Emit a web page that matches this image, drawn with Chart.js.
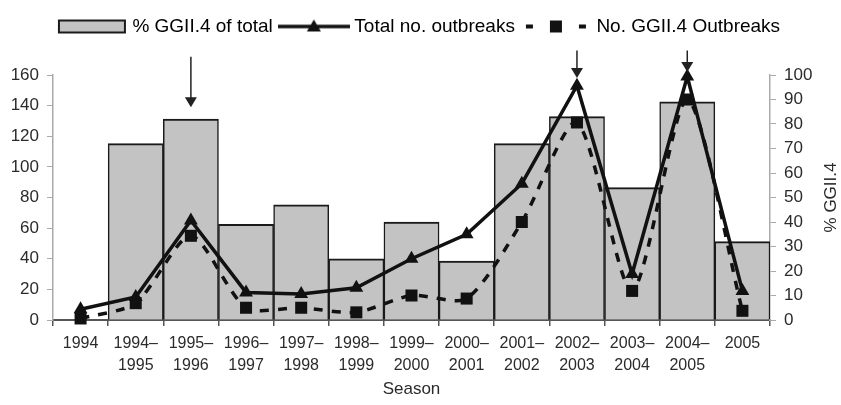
<!DOCTYPE html>
<html>
<head>
<meta charset="utf-8">
<script src="https://cdn.jsdelivr.net/npm/chart.js@4"></script>
<style>
  html, body { margin: 0; padding: 0; background: #fff; }
  #wrap { width: 841px; height: 405px; }
</style>
</head>
<body>
<div id="wrap"><canvas id="chart" width="841" height="405"></canvas></div>
<script>
const seasons = [
  "1994", ["1994–", "1995"], ["1995–", "1996"], ["1996–", "1997"], ["1997–", "1998"],
  ["1998–", "1999"], ["1999–", "2000"], ["2000–", "2001"], ["2001–", "2002"],
  ["2002–", "2003"], ["2003–", "2004"], ["2004–", "2005"], "2005"
];
const pctGGII4 = [null, 72, 82, 39, 47, 25, 40, 24, 72, 83, 54, 89, 32];
const totalOutbreaks = [7, 15, 65, 18, 17, 21, 40, 56, 89, 153, 30, 159, 19];
const ggii4Outbreaks = [1, 11, 55, 8, 8, 5, 16, 14, 64, 129, 19, 144, 6];

// arrows over the epidemic seasons: season index, start and tip (left axis units)
const arrowSeasons = [2, 9, 11];
const arrowTop = [172, 176, 176];
const arrowTip = [139, 158, 162];

Chart.defaults.font.family = '"Liberation Sans", Arial, sans-serif';
Chart.defaults.color = "#2b2b2b";

// little canvases used as legend symbols
function legendSymbol(kind) {
  const c = document.createElement("canvas");
  c.width = 72;
  c.height = 18;
  const g = c.getContext("2d");
  const mid = 9;
  if (kind === "bar") {
    g.fillStyle = "#c3c3c3";
    g.fillRect(3, 3, 66, 12);
    g.strokeStyle = "#1a1a1a";
    g.lineWidth = 2;
    g.strokeRect(3, 3, 66, 12);
  } else if (kind === "total") {
    g.strokeStyle = "#111";
    g.lineWidth = 3.5;
    g.beginPath();
    g.moveTo(0, mid);
    g.lineTo(72, mid);
    g.stroke();
    g.fillStyle = "#111";
    g.beginPath();
    g.moveTo(36, mid - 7);
    g.lineTo(43, mid + 5);
    g.lineTo(29, mid + 5);
    g.closePath();
    g.fill();
  } else {
    g.fillStyle = "#111";
    g.fillRect(6, mid - 2, 7, 4);
    g.fillRect(30, mid - 6, 12, 12);
    g.fillRect(59, mid - 2, 7, 4);
  }
  return c;
}

const annotations = {
  id: "annotations",
  afterDatasetsDraw(chart) {
    const { ctx, chartArea } = chart;
    const x = chart.scales.x, y = chart.scales.y, y1 = chart.scales.y1;
    ctx.save();
    ctx.strokeStyle = "#222";
    ctx.fillStyle = "#222";
    ctx.lineWidth = 1.5;
    arrowSeasons.forEach((idx, i) => {
      const px = x.getPixelForValue(idx);
      const top = y.getPixelForValue(arrowTop[i]);
      const tip = y.getPixelForValue(arrowTip[i]);
      ctx.beginPath();
      ctx.moveTo(px, top);
      ctx.lineTo(px, tip - 9);
      ctx.stroke();
      ctx.beginPath();
      ctx.moveTo(px - 6, tip - 10);
      ctx.lineTo(px + 6, tip - 10);
      ctx.lineTo(px, tip);
      ctx.closePath();
      ctx.fill();
    });
    // right axis title, reading upwards
    ctx.font = '17px "Liberation Sans", Arial, sans-serif';
    ctx.fillStyle = "#2b2b2b";
    ctx.translate(y1.right - 10, (chartArea.top + chartArea.bottom) / 2);
    ctx.rotate(-Math.PI / 2);
    ctx.textAlign = "center";
    ctx.textBaseline = "middle";
    ctx.fillText("% GGII.4", 0, 0);
    ctx.restore();
  }
};

const axisGrey = "#aaa";

new Chart(document.getElementById("chart"), {
  type: "bar",
  data: {
    labels: seasons,
    datasets: [
      {
        type: "line",
        label: "Total no. outbreaks",
        data: totalOutbreaks,
        yAxisID: "y",
        borderColor: "#111",
        backgroundColor: "#111",
        borderWidth: 3.5,
        pointStyle: "triangle",
        pointRadius: 8,
        pointBackgroundColor: "#111",
        pointBorderWidth: 0,
        tension: 0,
        clip: false,
        order: 1
      },
      {
        type: "line",
        label: "No. GGII.4 Outbreaks",
        data: ggii4Outbreaks,
        yAxisID: "y",
        borderColor: "#111",
        backgroundColor: "#111",
        borderWidth: 3.5,
        borderDash: [9, 9],
        pointStyle: "rect",
        pointRadius: 8.5,
        pointBackgroundColor: "#111",
        pointBorderWidth: 0,
        tension: 0.25,
        clip: false,
        order: 2
      },
      {
        type: "bar",
        label: "% GGII.4 of total",
        data: pctGGII4,
        yAxisID: "y1",
        backgroundColor: "#c3c3c3",
        borderColor: "#1a1a1a",
        borderWidth: { top: 2, left: 1.5, right: 1.5, bottom: 0 },
        borderSkipped: false,
        barPercentage: 1,
        categoryPercentage: 1,
        order: 3
      }
    ]
  },
  options: {
    responsive: false,
    animation: false,
    layout: { padding: { top: 7, left: 0, right: 0, bottom: 0 } },
    plugins: {
      tooltip: { enabled: false },
      legend: {
        position: "top",
        labels: {
          usePointStyle: true,
          pointStyleWidth: 62,
          padding: 10,
          color: "#2b2b2b",
          font: { size: 19 },
          generateLabels() {
            return [
              { text: "% GGII.4 of total", pointStyle: legendSymbol("bar"), lineWidth: 0, datasetIndex: 2 },
              { text: "Total no. outbreaks", pointStyle: legendSymbol("total"), lineWidth: 0, datasetIndex: 0 },
              { text: "No. GGII.4 Outbreaks", pointStyle: legendSymbol("ggii"), lineWidth: 0, datasetIndex: 1 }
            ];
          }
        }
      },
      // empty spacer between legend and plot area
      subtitle: {
        display: true,
        text: "",
        weight: 500,
        font: { size: 10, lineHeight: 1.2 },
        padding: { top: 0, bottom: 17 }
      }
    },
    scales: {
      x: {
        offset: true,
        grid: { display: true, drawOnChartArea: false, offset: true, tickLength: 6, color: "#555", lineWidth: 1.5 },
        border: { color: "#555", width: 2 },
        ticks: { color: "#2b2b2b", font: { size: 16, lineHeight: 1.35 }, padding: 7, maxRotation: 0, autoSkip: false },
        title: { display: true, text: "Season", color: "#2b2b2b", font: { size: 17 }, padding: { top: 0, bottom: 5 } },
        afterFit(scale) { scale.height = 85; }
      },
      y: {
        position: "left",
        min: 0,
        max: 160,
        ticks: { stepSize: 20, color: "#2b2b2b", font: { size: 17 }, padding: 8 },
        grid: { drawOnChartArea: false, tickLength: 6, color: axisGrey },
        border: { color: axisGrey, width: 1.5 },
        afterFit(scale) { scale.width = 53; }
      },
      y1: {
        position: "right",
        min: 0,
        max: 100,
        ticks: { stepSize: 10, color: "#2b2b2b", font: { size: 17 }, padding: 8 },
        grid: { drawOnChartArea: false, tickLength: 6, color: axisGrey },
        border: { color: axisGrey, width: 1.5 },
        afterFit(scale) { scale.width = 71; }
      }
    }
  },
  plugins: [annotations]
});
</script>
</body>
</html>
